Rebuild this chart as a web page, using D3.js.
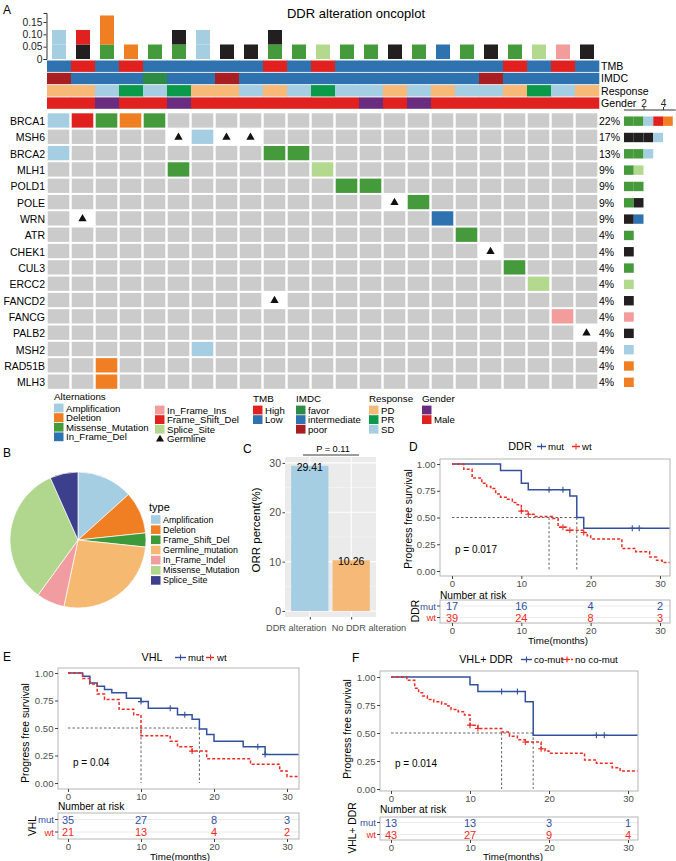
<!DOCTYPE html>
<html><head><meta charset="utf-8">
<script src="https://cdn.jsdelivr.net/npm/d3@7"></script>
<style>body{margin:0;background:#fff} svg{font-family:"Liberation Sans",Arial,sans-serif}</style>
</head><body><svg id="c" width="676" height="861"></svg>
<script>
// ================= DATA =================
const genes = ["BRCA1","MSH6","BRCA2","MLH1","POLD1","POLE","WRN","ATR","CHEK1","CUL3","ERCC2","FANCD2","FANCG","PALB2","MSH2","RAD51B","MLH3"];
const genePct = ["22%","17%","13%","9%","9%","9%","9%","4%","4%","4%","4%","4%","4%","4%","4%","4%","4%"];
const nSamples = 23;
const mutations = [
  ["BRCA1",0,"Amplification"],["BRCA1",1,"Frame_Shift_Del"],["BRCA1",2,"Missense_Mutation"],["BRCA1",3,"Deletion"],["BRCA1",4,"Missense_Mutation"],
  ["MSH6",5,"Germline"],["MSH6",6,"Amplification"],["MSH6",7,"Germline"],["MSH6",8,"Germline"],
  ["BRCA2",0,"Amplification"],["BRCA2",9,"Missense_Mutation"],["BRCA2",10,"Missense_Mutation"],
  ["MLH1",5,"Missense_Mutation"],["MLH1",11,"Splice_Site"],
  ["POLD1",12,"Missense_Mutation"],["POLD1",13,"Missense_Mutation"],
  ["POLE",14,"Germline"],["POLE",15,"Missense_Mutation"],
  ["WRN",1,"Germline"],["WRN",16,"In_Frame_Del"],
  ["ATR",17,"Missense_Mutation"],
  ["CHEK1",18,"Germline"],
  ["CUL3",19,"Missense_Mutation"],
  ["ERCC2",20,"Splice_Site"],
  ["FANCD2",9,"Germline"],
  ["FANCG",21,"In_Frame_Ins"],
  ["PALB2",22,"Germline"],
  ["MSH2",6,"Amplification"],
  ["RAD51B",2,"Deletion"],
  ["MLH3",2,"Deletion"]
];
const tmb = ["Low","High","Low","High","Low","Low","Low","Low","Low","High","Low","High","Low","Low","Low","Low","Low","Low","Low","High","Low","High","Low"];
const imdc = ["poor","intermediate","intermediate","intermediate","favor","intermediate","intermediate","poor","intermediate","intermediate","intermediate","intermediate","intermediate","intermediate","intermediate","intermediate","intermediate","intermediate","poor","intermediate","intermediate","intermediate","intermediate"];
const response = ["PD","PD","SD","PR","SD","PR","PD","PD","SD","PD","SD","PR","SD","SD","PD","SD","PD","SD","SD","PD","PR","SD","PD"];
const gender = ["Male","Male","Female","Male","Male","Female","Male","Male","Male","Male","Male","Male","Male","Female","Male","Female","Male","Male","Male","Male","Male","Male","Male"];
const topTicks = [0, 0.05, 0.10, 0.15];
const rightTicks = [2, 4];

const pieTypes = ["Amplification","Deletion","Frame_Shift_Del","Germline_mutation","In_Frame_Indel","Missense_Mutation","Splice_Site"];
const pieCounts = [4, 3, 1, 8, 2, 10, 2];

const orrCats = ["DDR alteration","No DDR alteration"];
const orrVals = [29.41, 10.26];
const orrTicks = [0, 10, 20, 30];

const kmTicks = [0, 10, 20, 30];
const survTicks = [0, 0.25, 0.5, 0.75, 1];
// D: DDR
const ddrMutTime = [0, 7, 10, 11, 17, 18, 19];
const ddrMutSurv = [1, 0.94, 0.82, 0.76, 0.70, 0.50, 0.40];
const ddrMutCensor = [14, 16, 26, 27];
const ddrWtTime = [0, 1.7, 2.9, 4.3, 5.0, 5.6, 6.3, 7.0, 8.0, 8.7, 9.4, 10, 11, 12, 14.5, 15.3, 16.5, 19, 19.5, 20, 24.5, 26.5, 28.5, 29.5, 30.3];
const ddrWtSurv = [1, 0.95, 0.87, 0.82, 0.79, 0.77, 0.72, 0.69, 0.67, 0.64, 0.62, 0.56, 0.53, 0.51, 0.49, 0.41, 0.38, 0.36, 0.33, 0.30, 0.21, 0.18, 0.13, 0.10, 0.08];
const ddrWtCensor = [10, 11, 16, 17, 19];
const ddrRiskMut = [17, 16, 4, 2];
const ddrRiskWt = [39, 24, 8, 3];
const ddrMedians = [14, 18];
// E: VHL
const vhlMutTime = [0, 2, 3, 4, 5, 6, 8, 10, 11, 15, 17, 18, 19, 20, 24, 27];
const vhlMutSurv = [1, 0.97, 0.91, 0.88, 0.85, 0.82, 0.77, 0.74, 0.68, 0.62, 0.58, 0.49, 0.44, 0.38, 0.33, 0.26];
const vhlMutCensor = [10, 14, 16, 26, 27];
const vhlWtTime = [0, 2, 3, 4, 5, 7, 9, 10, 14, 15, 17, 19, 25, 29, 30];
const vhlWtSurv = [1, 0.95, 0.90, 0.81, 0.76, 0.67, 0.62, 0.43, 0.38, 0.33, 0.29, 0.22, 0.17, 0.11, 0.06];
const vhlWtCensor = [17];
const vhlRiskMut = [35, 27, 8, 3];
const vhlRiskWt = [21, 13, 4, 2];
const vhlMedians = [10, 18];
// F: VHL + DDR
const coMutTime = [0, 10, 11, 17, 18];
const coMutSurv = [1, 0.93, 0.87, 0.78, 0.48];
const coMutCensor = [14, 16, 26, 27];
const coWtTime = [0, 2, 3, 3.5, 4, 4.6, 5.4, 6.4, 7.2, 7.6, 8.5, 9.3, 10, 11, 14, 15, 16, 17, 19, 19.5, 20, 24.5, 26, 28, 29];
const coWtSurv = [1, 0.97, 0.90, 0.86, 0.83, 0.80, 0.78, 0.76, 0.74, 0.71, 0.69, 0.66, 0.57, 0.54, 0.51, 0.47, 0.44, 0.42, 0.36, 0.34, 0.32, 0.26, 0.23, 0.19, 0.16];
const coWtCensor = [10, 11, 17, 19];
const coRiskMut = [13, 13, 3, 1];
const coRiskWt = [43, 27, 9, 4];
const coMedians = [14, 18];

// ================= STYLE =================
const mutColors = {Amplification:"#A6CEE3", Deletion:"#F07E22", Missense_Mutation:"#459A3C", In_Frame_Del:"#2F72B0",
  In_Frame_Ins:"#F29C9C", Frame_Shift_Del:"#E0211F", Splice_Site:"#B2D98E", Germline:"#231F20"};
const annColors = {
  TMB:{High:"#E0211F", Low:"#2F72B0"},
  IMDC:{favor:"#2E8B45", intermediate:"#2F72B0", poor:"#A81E22"},
  Response:{PD:"#F6B978", PR:"#0A9B4A", SD:"#A6CEE3"},
  Gender:{Female:"#6A2C7E", Male:"#E0211F"}
};
const pieColors = ["#A6CEE3","#F07E22","#3C9A3A","#F5B972","#F09CA0","#B1D68D","#3C3F8C"];
const BLUE = "#33509E", RED = "#EE2A24";
const FF = '"Liberation Sans",Arial,sans-serif';

const svg = d3.select("#c");
svg.append("rect").attr("width",676).attr("height",861).attr("fill","#fff");

function txt(g, x, y, s, o = {}) {
  const t = g.append("text").attr("x", x).attr("y", y).text(s)
    .attr("font-size", o.size || 10).attr("fill", o.fill || "#000")
    .attr("text-anchor", o.anchor || "start").attr("dominant-baseline", "central");
  if (o.rotate) t.attr("transform", `rotate(${o.rotate},${x},${y})`);
  return t;
}
function styleAxis(g, size, col) {
  g.select(".domain").remove();
  g.selectAll(".tick line").attr("stroke", "#444");
  g.selectAll(".tick text").attr("fill", col || "#4D4D4D").attr("font-size", size).attr("font-family", FF);
}

// ================= A: ONCOPLOT =================
const gA = svg.append("g");
txt(gA, 3, 10, "A", {size: 12});
txt(gA, 356, 13, "DDR alteration oncoplot", {size: 13, anchor: "middle"});

const colScale = d3.scaleBand().domain(d3.range(nSamples)).range([47, 599]);
const geneScale = d3.scaleBand().domain(genes).range([113, 390.5]);
const typeOrder = ["Missense_Mutation","Germline","Amplification","Frame_Shift_Del","Deletion","Splice_Site","In_Frame_Del","In_Frame_Ins"];
const mutMap = new Map(mutations.map(m => [m[0] + "|" + m[1], m[2]]));
const tri = d3.symbol().type(d3.symbolTriangle).size(30);

genes.forEach((g, gi) => {
  d3.range(nSamples).forEach(c => {
    const t = mutMap.get(g + "|" + c);
    const x = colScale(c) + 0.7, y = geneScale(g) + 0.3;
    const w = colScale.bandwidth() - 2.4, h = geneScale.bandwidth() - 2.0;
    gA.append("rect").attr("x", x).attr("y", y).attr("width", w).attr("height", h)
      .attr("fill", t === undefined ? "#CBCBCB" : (t === "Germline" ? "#FFFFFF" : mutColors[t]));
    if (t === "Germline") {
      gA.append("path").attr("d", tri).attr("fill", "#111")
        .attr("transform", `translate(${x + w / 2},${y + h / 2 + 0.5})`);
    }
  });
  txt(gA, 45, geneScale(g) + geneScale.bandwidth() / 2, g, {size: 10.5, anchor: "end"});
  txt(gA, 599, geneScale(g) + geneScale.bandwidth() / 2, genePct[gi], {size: 10.5});
});

// top stacked bars
const topY = d3.scaleLinear().domain([0, 0.1865]).range([59, 13]);
const unit = 1 / genes.length;
d3.range(nSamples).forEach(c => {
  const types = mutations.filter(m => m[1] === c).map(m => m[2])
    .sort((a, b) => typeOrder.indexOf(a) - typeOrder.indexOf(b));
  let acc = 0;
  types.forEach(t => {
    gA.append("rect").attr("x", colScale(c) + 5).attr("width", 14)
      .attr("y", topY(acc + unit)).attr("height", topY(acc) - topY(acc + unit))
      .attr("fill", mutColors[t]);
    acc += unit;
  });
});
const topAx = gA.append("g").attr("transform", "translate(46.5,0)")
  .call(d3.axisLeft(topY).tickValues(topTicks).tickFormat(d => d === 0 ? "0" : d3.format(".2f")(d)).tickSize(3).tickPadding(1));
topAx.select(".domain").attr("stroke", "#333");
topAx.selectAll(".tick line").attr("stroke", "#333");
topAx.selectAll(".tick text").attr("font-size", 10.3).attr("fill", "#222").attr("font-family", FF);

// annotation rows
const annRows = [["TMB", tmb], ["IMDC", imdc], ["Response", response], ["Gender", gender]];
annRows.forEach((r, ri) => {
  const y = 60.5 + ri * 12.3;
  r[1].forEach((v, c) => {
    gA.append("rect").attr("x", colScale(c)).attr("y", y).attr("width", colScale.bandwidth() + 0.3)
      .attr("height", 11.4).attr("fill", annColors[r[0]][v]);
  });
  txt(gA, 601, y + 5.5, r[0], {size: 10.6});
});

// right side bars
const rightX = d3.scaleLinear().domain([0, 5.3]).range([624, 675.7]);
genes.forEach(g => {
  const types = mutations.filter(m => m[0] === g).map(m => m[2])
    .sort((a, b) => typeOrder.indexOf(a) - typeOrder.indexOf(b));
  let acc = 0;
  const cy = geneScale(g) + geneScale.bandwidth() / 2;
  types.forEach(t => {
    gA.append("rect").attr("x", rightX(acc)).attr("width", rightX(acc + 1) - rightX(acc))
      .attr("y", cy - 4.7).attr("height", 9.4).attr("fill", mutColors[t]);
    acc += 1;
  });
});
const rAx = gA.append("g").attr("transform", "translate(0,110)")
  .call(d3.axisTop(rightX).tickValues(rightTicks).tickFormat(d3.format("d")).tickSize(3).tickPadding(0));
rAx.select(".domain").attr("stroke", "#333").attr("d", `M624,0H675.7`);
rAx.selectAll(".tick line").attr("stroke", "#333");
rAx.selectAll(".tick text").attr("font-size", 10).attr("fill", "#222").attr("font-family", FF);

// legend
const legendBlocks = [
  {title: "Alternations", tx: 54, x: 54, items: [["Amplification", mutColors.Amplification], ["Deletion", mutColors.Deletion], ["Missense_Mutation", mutColors.Missense_Mutation], ["In_Frame_Del", mutColors.In_Frame_Del]], y0: 408},
  {title: null, x: 155, items: [["In_Frame_Ins", mutColors.In_Frame_Ins], ["Frame_Shift_Del", mutColors.Frame_Shift_Del], ["Splice_Site", mutColors.Splice_Site], ["Germline", "TRI"]], y0: 410},
  {title: "TMB", tx: 253, x: 253, items: [["High", annColors.TMB.High], ["Low", annColors.TMB.Low]], y0: 410},
  {title: "IMDC", tx: 296, x: 296, items: [["favor", annColors.IMDC.favor], ["intermediate", annColors.IMDC.intermediate], ["poor", annColors.IMDC.poor]], y0: 410},
  {title: "Response", tx: 369, x: 369, items: [["PD", annColors.Response.PD], ["PR", annColors.Response.PR], ["SD", annColors.Response.SD]], y0: 410},
  {title: "Gender", tx: 422, x: 422, items: [["", annColors.Gender.Female], ["Male", annColors.Gender.Male]], y0: 410}
];
legendBlocks.forEach(b => {
  if (b.title) txt(gA, b.tx, b.title === "Alternations" ? 396.5 : 398, b.title, {size: 9.8});
  b.items.forEach((it, i) => {
    const cy = b.y0 + i * 9.6;
    if (it[1] === "TRI") {
      gA.append("path").attr("d", d3.symbol().type(d3.symbolTriangle).size(28)).attr("fill", "#111")
        .attr("transform", `translate(${b.x + 5},${cy + 0.5})`);
    } else {
      gA.append("rect").attr("x", b.x).attr("y", cy - 4.4).attr("width", 9.5).attr("height", 8.8).attr("fill", it[1]);
    }
    if (it[0]) txt(gA, b.x + 12, cy, it[0], {size: 9.6});
  });
});

// ================= B: PIE =================
const gB = svg.append("g");
txt(gB, 3, 453, "B", {size: 12});
const pieArcs = d3.pie().sort(null).value(d => d)(pieCounts);
const arc = d3.arc().innerRadius(0).outerRadius(68);
gB.append("g").attr("transform", "translate(78,540)").selectAll("path").data(pieArcs).join("path")
  .attr("d", arc).attr("fill", (d, i) => pieColors[i]).attr("stroke", "#fff").attr("stroke-width", 0.7);
txt(gB, 149, 507, "type", {size: 11});
pieTypes.forEach((t, i) => {
  const cy = 519.5 + i * 10.15;
  gB.append("rect").attr("x", 151).attr("y", cy - 4.3).attr("width", 9.5).attr("height", 8.6).attr("fill", pieColors[i]);
  txt(gB, 163, cy, t, {size: 8.9});
});

// ================= C: BAR =================
const gC = svg.append("g");
txt(gC, 243, 449, "C", {size: 12});
const cx = d3.scaleLinear().domain([0.4, 2.6]).range([285, 376]);
const cy = d3.scaleLinear().domain([-1.22, 31.2]).range([617, 457]);
gC.append("rect").attr("x", 285).attr("y", 457).attr("width", 91).attr("height", 160).attr("fill", "#EBEBEB");
[5, 15, 25].forEach(v => gC.append("line").attr("x1", 285).attr("x2", 376).attr("y1", cy(v)).attr("y2", cy(v)).attr("stroke", "#F7F7F7").attr("stroke-width", 0.6));
orrTicks.forEach(v => gC.append("line").attr("x1", 285).attr("x2", 376).attr("y1", cy(v)).attr("y2", cy(v)).attr("stroke", "#fff").attr("stroke-width", 1.1));
[1, 2].forEach(v => gC.append("line").attr("x1", cx(v)).attr("x2", cx(v)).attr("y1", 457).attr("y2", 617).attr("stroke", "#fff").attr("stroke-width", 1.1));
const barColors = ["#A6CEE3", "#F6B978"];
orrVals.forEach((v, i) => {
  gC.append("rect").attr("x", cx(i + 1 - 0.45)).attr("width", cx(i + 1 + 0.45) - cx(i + 1 - 0.45))
    .attr("y", cy(v)).attr("height", cy(0) - cy(v)).attr("fill", barColors[i]);
  txt(gC, cx(i + 1), cy(v) + 1, d3.format(".2f")(v), {size: 10.5, anchor: "middle"});
});
const cyAx = gC.append("g").attr("transform", "translate(285,0)")
  .call(d3.axisLeft(cy).tickValues(orrTicks).tickSize(2.5).tickPadding(1.5));
styleAxis(cyAx, 10.5);
const cxAx = gC.append("g").attr("transform", "translate(0,617)")
  .call(d3.axisBottom(cx).tickValues([1, 2]).tickFormat((d, i) => orrCats[i]).tickSize(2.5).tickPadding(5));
styleAxis(cxAx, 9.2);
// labels set apart as in the reference (first ends left of second)
cxAx.selectAll(".tick text").attr("text-anchor", (d, i) => i === 0 ? "end" : "start")
  .attr("dx", (d, i) => i === 0 ? 16 : -20);
txt(gC, 256, 530, "ORR percent(%)", {size: 11.5, anchor: "middle", rotate: -90});
gC.append("line").attr("x1", 303).attr("x2", 359).attr("y1", 455).attr("y2", 455).attr("stroke", "#222").attr("stroke-width", 0.9);
txt(gC, 333, 448.5, "P = 0.11", {size: 9.2, anchor: "middle"});

// ================= KM =================
function stepAt(time, surv, t) {
  let s = surv[0];
  for (let i = 0; i < time.length; i++) if (time[i] <= t) s = surv[i];
  return s;
}
function cross(g, x, y, col) {
  g.append("path").attr("d", `M${x - 3},${y}H${x + 3}M${x},${y - 3}V${y + 3}`).attr("stroke", col).attr("stroke-width", 1.1);
}
function legSym(g, x1, x2, y, col, dash) {
  g.append("line").attr("x1", x1).attr("x2", x2).attr("y1", y).attr("y2", y).attr("stroke", col).attr("stroke-width", 1.4).attr("stroke-dasharray", dash || null);
  cross(g, (x1 + x2) / 2, y, col);
}
function drawKM(c) {
  const g = svg.append("g");
  const x = d3.scaleLinear().domain([0, 30]).range([c.x0, c.x30]);
  const y = d3.scaleLinear().domain([0, 1]).range([c.y0, c.y1]);
  const tMax = x.invert(c.fx1 - 0.5);
  txt(g, c.letter[1], c.letter[2], c.letter[0], {size: 12});
  txt(g, c.titleX, c.titleY, c.title, {size: 10.8, anchor: "middle"});
  legSym(g, c.leg[0], c.leg[1], c.titleY + 0.5, BLUE);
  txt(g, c.leg[1] + 2, c.titleY, c.names[0], {size: 9.6});
  legSym(g, c.leg[2], c.leg[3], c.titleY + 0.5, RED, "3,2");
  txt(g, c.leg[3] + 2, c.titleY, c.names[1], {size: 9.6});

  g.append("rect").attr("x", c.fx0).attr("y", c.fy0).attr("width", c.fx1 - c.fx0).attr("height", c.fy1 - c.fy0)
    .attr("fill", "#fff").attr("stroke", "#B5B5B5").attr("stroke-width", 1);
  const ya = g.append("g").attr("transform", `translate(${c.fx0},0)`)
    .call(d3.axisLeft(y).tickValues(survTicks).tickFormat(d3.format(".2f")).tickSize(3).tickPadding(1.5));
  styleAxis(ya, 9.6);
  const xa = g.append("g").attr("transform", `translate(0,${c.fy1})`)
    .call(d3.axisBottom(x).tickValues(kmTicks).tickSize(3).tickPadding(1));
  styleAxis(xa, 9.6);
  txt(g, c.ytX, c.ytY, "Progress free survival", {size: 10.3, anchor: "middle", rotate: -90});

  // median lines
  const med = g.append("g").attr("stroke", "#555").attr("stroke-width", 0.9).attr("stroke-dasharray", "2.5,2").attr("fill", "none");
  med.append("line").attr("x1", x(0)).attr("x2", x(d3.max(c.medians))).attr("y1", y(0.5)).attr("y2", y(0.5));
  c.medians.forEach(m => med.append("line").attr("x1", x(m)).attr("x2", x(m)).attr("y1", y(0.5)).attr("y2", y(0)));

  const line = d3.line().x(d => x(d[0])).y(d => y(d[1])).curve(d3.curveStepAfter);
  c.curves.forEach(cv => {
    const pts = cv.time.map((t, i) => [t, cv.surv[i]]);
    pts.push([tMax, cv.surv[cv.surv.length - 1]]);
    g.append("path").attr("d", line(pts)).attr("fill", "none").attr("stroke", cv.color)
      .attr("stroke-width", 1.5).attr("stroke-dasharray", cv.dash || null);
    cv.censor.forEach(t => cross(g, x(t), y(stepAt(cv.time, cv.surv, t)), cv.color));
  });
  txt(g, c.pX, c.pY, c.pText, {size: 10});

  // risk table
  txt(g, c.fx0, c.narY, "Number at risk", {size: 10.2});
  [10, 20].forEach(v => g.append("line").attr("x1", x(v)).attr("x2", x(v)).attr("y1", c.rt0).attr("y2", c.rt1).attr("stroke", "#EBEBEB"));
  [c.rowMut, c.rowWt].forEach(v => g.append("line").attr("x1", c.fx0).attr("x2", c.fx1).attr("y1", v).attr("y2", v).attr("stroke", "#EBEBEB"));
  g.append("rect").attr("x", c.fx0).attr("y", c.rt0).attr("width", c.fx1 - c.fx0).attr("height", c.rt1 - c.rt0)
    .attr("fill", "none").attr("stroke", "#B5B5B5");
  kmTicks.forEach((t, i) => {
    txt(g, x(t), c.rowMut, c.riskMut[i], {size: 11, anchor: "middle", fill: BLUE});
    txt(g, x(t), c.rowWt, c.riskWt[i], {size: 11, anchor: "middle", fill: RED});
  });
  [[c.rowMut, "mut", BLUE], [c.rowWt, "wt", RED]].forEach(r => {
    g.append("line").attr("x1", c.fx0 - 3).attr("x2", c.fx0).attr("y1", r[0]).attr("y2", r[0]).attr("stroke", "#444");
    txt(g, c.fx0 - 4, r[0], r[1], {size: 9.6, anchor: "end", fill: r[2]});
  });
  const ra = g.append("g").attr("transform", `translate(0,${c.rt1})`)
    .call(d3.axisBottom(x).tickValues(kmTicks).tickSize(3).tickPadding(1));
  styleAxis(ra, 9.6);
  txt(g, c.timeX, c.timeY, "Time(months)", {size: 9.8, anchor: "middle"});
  txt(g, c.stX, c.stY, c.strat, {size: 10.3, anchor: "middle", rotate: -90});
}

drawKM({letter: ["D", 409, 447], title: "DDR", titleX: 520, titleY: 446, leg: [537, 546, 572, 580], names: ["mut", "wt"],
  fx0: 440, fx1: 670, fy0: 459, fy1: 576, x0: 452, x30: 660, y0: 571, y1: 464,
  ytX: 408, ytY: 519, pX: 455, pY: 549, pText: "p = 0.017", medians: ddrMedians,
  curves: [{time: ddrMutTime, surv: ddrMutSurv, censor: ddrMutCensor, color: BLUE},
           {time: ddrWtTime, surv: ddrWtSurv, censor: ddrWtCensor, color: RED, dash: "3,2"}],
  narY: 595.5, rt0: 600, rt1: 623, rowMut: 606, rowWt: 617.5, riskMut: ddrRiskMut, riskWt: ddrRiskWt,
  timeX: 558, timeY: 640, stX: 415, stY: 611, strat: "DDR"});

drawKM({letter: ["E", 3, 657], title: "VHL", titleX: 152, titleY: 657, leg: [175, 186, 206, 215], names: ["mut", "wt"],
  fx0: 58, fx1: 299, fy0: 668, fy1: 789, x0: 68, x30: 287, y0: 783, y1: 673,
  ytX: 25, ytY: 733, pX: 73, pY: 762, pText: "p = 0.04", medians: vhlMedians,
  curves: [{time: vhlMutTime, surv: vhlMutSurv, censor: vhlMutCensor, color: BLUE},
           {time: vhlWtTime, surv: vhlWtSurv, censor: vhlWtCensor, color: RED, dash: "3,2"}],
  narY: 806.5, rt0: 813, rt1: 839, rowMut: 819.5, rowWt: 832, riskMut: vhlRiskMut, riskWt: vhlRiskWt,
  timeX: 180, timeY: 856, stX: 32, stY: 826, strat: "VHL"});

drawKM({letter: ["F", 352, 658], title: "VHL+ DDR", titleX: 486, titleY: 659, leg: [521, 532, 561, 573], names: ["co-mut", "no co-mut"],
  fx0: 380, fx1: 638, fy0: 671, fy1: 791, x0: 391, x30: 628, y0: 789, y1: 677,
  ytX: 347, ytY: 729, pX: 395, pY: 763, pText: "p = 0.014", medians: coMedians,
  curves: [{time: coMutTime, surv: coMutSurv, censor: coMutCensor, color: BLUE},
           {time: coWtTime, surv: coWtSurv, censor: coWtCensor, color: RED, dash: "3,2"}],
  narY: 809.5, rt0: 817, rt1: 840, rowMut: 822.5, rowWt: 834.5, riskMut: coRiskMut, riskWt: coRiskWt,
  timeX: 513, timeY: 856, stX: 352, stY: 828, strat: "VHL+ DDR"});
</script></body></html>
